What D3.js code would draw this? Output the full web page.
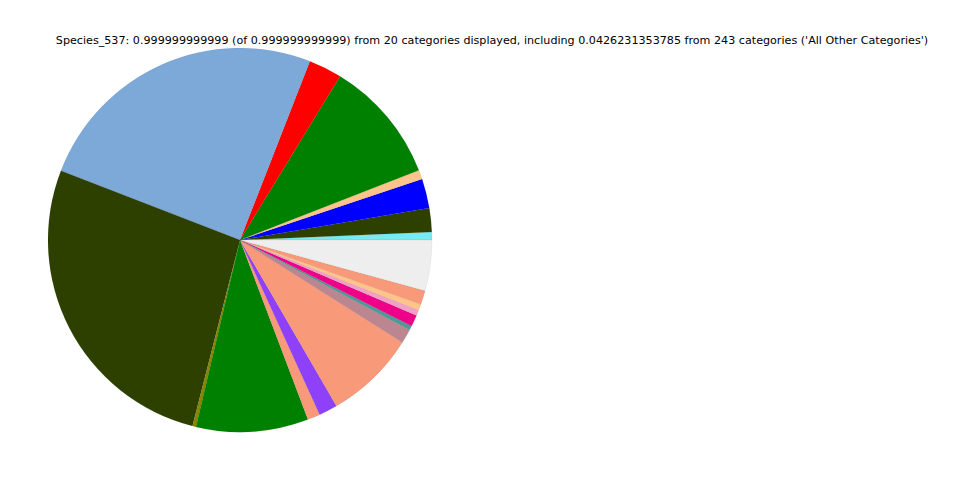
<!DOCTYPE html>
<html>
<head>
<meta charset="utf-8">
<script src="https://cdn.jsdelivr.net/npm/d3@7"></script>
<style>
  html, body { margin: 0; padding: 0; background: #fff; }
  svg { display: block; }
</style>
</head>
<body>
<svg id="chart" width="960" height="480"></svg>
<script>
const titleText = "Species_537: 0.999999999999 (of 0.999999999999) from 20 categories displayed, including 0.0426231353785 from 243 categories ('All Other Categories')";
const categories = ["c1","c2","c3","c4","c5","c6","c7","c8","c9","c10","c11","c12","c13","c14","c15","c16","c17","c18","c19","All Other Categories"];
const values = [0.0066, 0.0200, 0.0248, 0.0078, 0.1036, 0.0280, 0.2506, 0.2690, 0.0030, 0.0944, 0.0106, 0.0156, 0.0767, 0.0120, 0.0036, 0.0097, 0.0047, 0.0053, 0.0117, 0.0426];
const colors = ["#78ebf2", "#2d4000", "#0000ff", "#ffc48a", "#008000", "#ff0000", "#7da9d9", "#2d4000", "#8a8500", "#008000", "#f8997a", "#8e41f8", "#f8997a", "#bc8690", "#4f9a94", "#ee0088", "#f2a0c8", "#ffc48a", "#f8997a", "#eeeeee"];

const svg = d3.select("#chart");
const cx = 240, cy = 240, r = 192;

const data = categories.map((c, i) => ({ cat: c, value: values[i], color: colors[i] }));
const pie = d3.pie().value(d => d.value).sort(null)
  .startAngle(Math.PI / 2).endAngle(Math.PI / 2 - 2 * Math.PI);
const arc = d3.arc().innerRadius(0).outerRadius(r);

svg.append("g").attr("transform", `translate(${cx},${cy})`)
  .selectAll("path").data(pie(data)).join("path")
  .attr("d", arc)
  .attr("fill", d => d.data.color)
  .attr("stroke", "rgba(0,0,0,0.12)")
  .attr("stroke-width", 0.4);

svg.append("text")
  .attr("x", 492).attr("y", 44)
  .attr("text-anchor", "middle")
  .attr("font-family", "DejaVu Sans, sans-serif")
  .attr("font-size", 11.15)
  .attr("fill", "#000")
  .text(titleText);
</script>
</body>
</html>
